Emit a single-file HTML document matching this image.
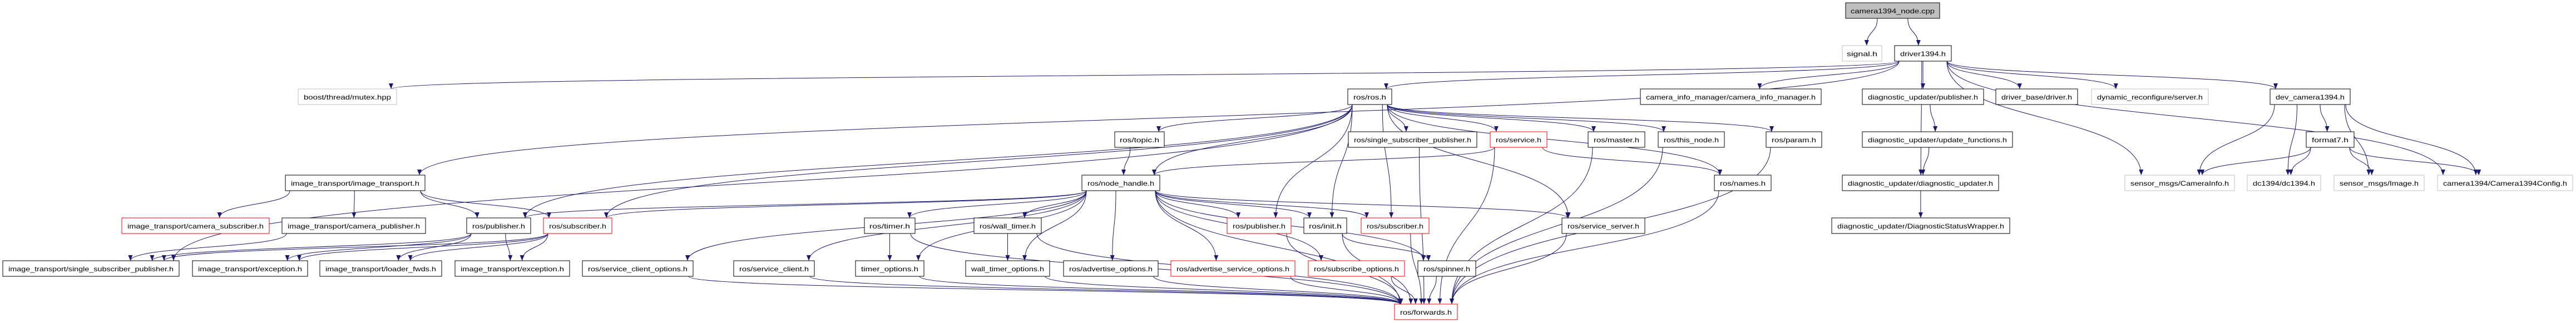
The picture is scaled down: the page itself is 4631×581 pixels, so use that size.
<!DOCTYPE html>
<html><head><meta charset="utf-8">
<style>
html,body{margin:0;padding:0;background:#fff;}
svg{display:block;}
text{font-family:"Liberation Sans",sans-serif;font-size:12px;fill:#000;}
</style></head>
<body>
<svg id="g" width="4631" height="581" viewBox="0 0 4631 581" xmlns="http://www.w3.org/2000/svg">
<defs>
<marker id="a" viewBox="0 0 10 8" refX="10" refY="4" markerWidth="10" markerHeight="8" markerUnits="userSpaceOnUse" orient="auto">
<path d="M0,0 L10,4 L0,8 z" fill="#191970"/>
</marker>
</defs>
<g id="edges" fill="none" stroke="#191970" stroke-width="1"></g>
<g id="labels">
<rect x="3318" y="5" width="169" height="28" fill="#bfbfbf" stroke="#000"/><text x="3327" y="24" textLength="151" lengthAdjust="spacingAndGlyphs">camera1394_node.cpp</text>
<rect x="3312" y="82" width="71" height="28" fill="#fff" stroke="#bfbfbf"/><text x="3320" y="101" textLength="55" lengthAdjust="spacingAndGlyphs">signal.h</text>
<rect x="3406" y="82" width="102" height="28" fill="#fff" stroke="#000"/><text x="3416" y="101" textLength="82" lengthAdjust="spacingAndGlyphs">driver1394.h</text>

<rect x="536" y="160" width="177" height="28" fill="#fff" stroke="#bfbfbf"/><text x="546" y="179" textLength="157" lengthAdjust="spacingAndGlyphs">boost/thread/mutex.hpp</text>
<rect x="2423" y="160" width="79" height="28" fill="#fff" stroke="#000"/><text x="2433" y="179" textLength="59" lengthAdjust="spacingAndGlyphs">ros/ros.h</text>
<rect x="2949" y="160" width="325" height="28" fill="#fff" stroke="#000"/><text x="2959" y="179" textLength="305" lengthAdjust="spacingAndGlyphs">camera_info_manager/camera_info_manager.h</text>
<rect x="3348" y="160" width="218" height="28" fill="#fff" stroke="#000"/><text x="3358" y="179" textLength="198" lengthAdjust="spacingAndGlyphs">diagnostic_updater/publisher.h</text>
<rect x="3588" y="160" width="147" height="28" fill="#fff" stroke="#000"/><text x="3598" y="179" textLength="127" lengthAdjust="spacingAndGlyphs">driver_base/driver.h</text>
<rect x="3760" y="160" width="210" height="28" fill="#fff" stroke="#bfbfbf"/><text x="3770" y="179" textLength="190" lengthAdjust="spacingAndGlyphs">dynamic_reconfigure/server.h</text>
<rect x="4081" y="160" width="144" height="28" fill="#fff" stroke="#000"/><text x="4091" y="179" textLength="124" lengthAdjust="spacingAndGlyphs">dev_camera1394.h</text>

<rect x="2004" y="237" width="89" height="28" fill="#fff" stroke="#000"/><text x="2013" y="256" textLength="71" lengthAdjust="spacingAndGlyphs">ros/topic.h</text>
<rect x="2424" y="237" width="231" height="28" fill="#fff" stroke="#000"/><text x="2434" y="256" textLength="211" lengthAdjust="spacingAndGlyphs">ros/single_subscriber_publisher.h</text>
<rect x="2679" y="237" width="102" height="28" fill="#fff" stroke="#ff0000"/><text x="2689" y="256" textLength="82" lengthAdjust="spacingAndGlyphs">ros/service.h</text>
<rect x="2855" y="237" width="102" height="28" fill="#fff" stroke="#000"/><text x="2865" y="256" textLength="82" lengthAdjust="spacingAndGlyphs">ros/master.h</text>
<rect x="2981" y="237" width="119" height="28" fill="#fff" stroke="#000"/><text x="2991" y="256" textLength="99" lengthAdjust="spacingAndGlyphs">ros/this_node.h</text>
<rect x="3175" y="237" width="100" height="28" fill="#fff" stroke="#000"/><text x="3185" y="256" textLength="80" lengthAdjust="spacingAndGlyphs">ros/param.h</text>
<rect x="3348" y="237" width="270" height="28" fill="#fff" stroke="#000"/><text x="3358" y="256" textLength="250" lengthAdjust="spacingAndGlyphs">diagnostic_updater/update_functions.h</text>
<rect x="4146" y="237" width="86" height="28" fill="#fff" stroke="#000"/><text x="4156" y="256" textLength="66" lengthAdjust="spacingAndGlyphs">format7.h</text>

<rect x="513" y="315" width="251" height="28" fill="#fff" stroke="#000"/><text x="523" y="334" textLength="231" lengthAdjust="spacingAndGlyphs">image_transport/image_transport.h</text>
<rect x="1945" y="315" width="140" height="28" fill="#fff" stroke="#000"/><text x="1955" y="334" textLength="120" lengthAdjust="spacingAndGlyphs">ros/node_handle.h</text>
<rect x="3082" y="315" width="102" height="28" fill="#fff" stroke="#000"/><text x="3092" y="334" textLength="82" lengthAdjust="spacingAndGlyphs">ros/names.h</text>
<rect x="3312" y="315" width="281" height="28" fill="#fff" stroke="#000"/><text x="3322" y="334" textLength="261" lengthAdjust="spacingAndGlyphs">diagnostic_updater/diagnostic_updater.h</text>
<rect x="3820" y="315" width="197" height="28" fill="#fff" stroke="#bfbfbf"/><text x="3830" y="334" textLength="177" lengthAdjust="spacingAndGlyphs">sensor_msgs/CameraInfo.h</text>
<rect x="4040" y="315" width="132" height="28" fill="#fff" stroke="#bfbfbf"/><text x="4050" y="334" textLength="112" lengthAdjust="spacingAndGlyphs">dc1394/dc1394.h</text>
<rect x="4196" y="315" width="162" height="28" fill="#fff" stroke="#bfbfbf"/><text x="4206" y="334" textLength="142" lengthAdjust="spacingAndGlyphs">sensor_msgs/Image.h</text>
<rect x="4382" y="315" width="243" height="28" fill="#fff" stroke="#bfbfbf"/><text x="4392" y="334" textLength="223" lengthAdjust="spacingAndGlyphs">camera1394/Camera1394Config.h</text>

<rect x="219" y="392" width="265" height="28" fill="#fff" stroke="#ff0000"/><text x="229" y="411" textLength="245" lengthAdjust="spacingAndGlyphs">image_transport/camera_subscriber.h</text>
<rect x="507" y="392" width="258" height="28" fill="#fff" stroke="#000"/><text x="517" y="411" textLength="238" lengthAdjust="spacingAndGlyphs">image_transport/camera_publisher.h</text>
<rect x="839" y="392" width="115" height="28" fill="#fff" stroke="#000"/><text x="849" y="411" textLength="95" lengthAdjust="spacingAndGlyphs">ros/publisher.h</text>
<rect x="977" y="392" width="123" height="28" fill="#fff" stroke="#ff0000"/><text x="987" y="411" textLength="103" lengthAdjust="spacingAndGlyphs">ros/subscriber.h</text>
<rect x="1554" y="392" width="91" height="28" fill="#fff" stroke="#000"/><text x="1563" y="411" textLength="73" lengthAdjust="spacingAndGlyphs">ros/timer.h</text>
<rect x="1751" y="392" width="121" height="28" fill="#fff" stroke="#000"/><text x="1761" y="411" textLength="101" lengthAdjust="spacingAndGlyphs">ros/wall_timer.h</text>
<rect x="2206" y="392" width="115" height="28" fill="#fff" stroke="#ff0000"/><text x="2216" y="411" textLength="95" lengthAdjust="spacingAndGlyphs">ros/publisher.h</text>
<rect x="2344" y="392" width="77" height="28" fill="#fff" stroke="#000"/><text x="2353" y="411" textLength="59" lengthAdjust="spacingAndGlyphs">ros/init.h</text>
<rect x="2447" y="392" width="122" height="28" fill="#fff" stroke="#ff0000"/><text x="2457" y="411" textLength="102" lengthAdjust="spacingAndGlyphs">ros/subscriber.h</text>
<rect x="2808" y="392" width="149" height="28" fill="#fff" stroke="#000"/><text x="2818" y="411" textLength="129" lengthAdjust="spacingAndGlyphs">ros/service_server.h</text>
<rect x="3293" y="392" width="320" height="28" fill="#fff" stroke="#000"/><text x="3303" y="411" textLength="300" lengthAdjust="spacingAndGlyphs">diagnostic_updater/DiagnosticStatusWrapper.h</text>

<rect x="5" y="469" width="317" height="28" fill="#fff" stroke="#000"/><text x="15" y="488" textLength="297" lengthAdjust="spacingAndGlyphs">image_transport/single_subscriber_publisher.h</text>
<rect x="346" y="469" width="207" height="28" fill="#fff" stroke="#000"/><text x="356" y="488" textLength="187" lengthAdjust="spacingAndGlyphs">image_transport/exception.h</text>
<rect x="575" y="469" width="219" height="28" fill="#fff" stroke="#000"/><text x="585" y="488" textLength="199" lengthAdjust="spacingAndGlyphs">image_transport/loader_fwds.h</text>
<rect x="818" y="469" width="206" height="28" fill="#fff" stroke="#000"/><text x="828" y="488" textLength="186" lengthAdjust="spacingAndGlyphs">image_transport/exception.h</text>
<rect x="1047" y="469" width="199" height="28" fill="#fff" stroke="#000"/><text x="1057" y="488" textLength="179" lengthAdjust="spacingAndGlyphs">ros/service_client_options.h</text>
<rect x="1319" y="469" width="145" height="28" fill="#fff" stroke="#000"/><text x="1329" y="488" textLength="125" lengthAdjust="spacingAndGlyphs">ros/service_client.h</text>
<rect x="1538" y="469" width="123" height="28" fill="#fff" stroke="#000"/><text x="1548" y="488" textLength="103" lengthAdjust="spacingAndGlyphs">timer_options.h</text>
<rect x="1736" y="469" width="151" height="28" fill="#fff" stroke="#000"/><text x="1746" y="488" textLength="131" lengthAdjust="spacingAndGlyphs">wall_timer_options.h</text>
<rect x="1912" y="469" width="170" height="28" fill="#fff" stroke="#000"/><text x="1922" y="488" textLength="150" lengthAdjust="spacingAndGlyphs">ros/advertise_options.h</text>
<rect x="2105" y="469" width="223" height="28" fill="#fff" stroke="#ff0000"/><text x="2115" y="488" textLength="203" lengthAdjust="spacingAndGlyphs">ros/advertise_service_options.h</text>
<rect x="2352" y="469" width="173" height="28" fill="#fff" stroke="#ff0000"/><text x="2362" y="488" textLength="153" lengthAdjust="spacingAndGlyphs">ros/subscribe_options.h</text>
<rect x="2549" y="469" width="104" height="28" fill="#fff" stroke="#000"/><text x="2559" y="488" textLength="84" lengthAdjust="spacingAndGlyphs">ros/spinner.h</text>

<rect x="2507" y="547" width="113" height="28" fill="#fff" stroke="#ff0000"/><text x="2517" y="566" textLength="93" lengthAdjust="spacingAndGlyphs">ros/forwards.h</text>
</g>
</svg>
<script>
var N={
root:[3318,5,169],sig:[3312,82,71],drv:[3406,82,102],
mutex:[536,160,177],ros:[2423,160,79],cim:[2949,160,325],dpub:[3348,160,218],dbase:[3588,160,147],dyn:[3760,160,210],dev:[4081,160,144],
topic:[2004,237,89],rssp:[2424,237,231],svc:[2679,237,102],master:[2855,237,102],thisn:[2981,237,119],param:[3175,237,100],uf:[3348,237,270],f7:[4146,237,86],
it:[513,315,251],nh:[1945,315,140],names:[3082,315,102],du:[3312,315,281],ci:[3820,315,197],dc:[4040,315,132],img:[4196,315,162],cfg:[4382,315,243],
csub:[219,392,265],cpub:[507,392,258],pub1:[839,392,115],sub1:[977,392,123],timer:[1554,392,91],wt:[1751,392,121],pub2:[2206,392,115],init:[2344,392,77],sub2:[2447,392,122],ss:[2808,392,149],dsw:[3293,392,320],
itssp:[5,469,317],exc1:[346,469,207],lf:[575,469,219],exc2:[818,469,206],sco:[1047,469,199],sc:[1319,469,145],to:[1538,469,123],wto:[1736,469,151],ao:[1912,469,170],aso:[2105,469,223],so:[2352,469,173],spin:[2549,469,104],
fw:[2507,547,113]};
var E=[["root","sig"],["root","drv"],
["drv","mutex"],["drv","it"],["drv","ros"],["drv","cim"],["drv","dpub"],["drv","du"],["drv","dbase"],["drv","dyn"],["drv","dev"],["drv","ci"],["drv","cfg"],
["ros","topic"],["ros","nh"],["ros","pub1"],["ros","sub1"],["ros","pub2"],["ros","init"],["ros","sub2"],["ros","rssp"],["ros","svc"],["ros","master"],["ros","thisn"],["ros","param"],["ros","names"],["ros","ss"],["ros","itssp"],
["it","csub"],["it","cpub"],["it","pub1"],["it","sub1"],["cpub","itssp"],
["pub1","itssp"],["pub1","exc1"],["pub1","lf"],["pub1","exc2"],["sub1","itssp"],["sub1","exc1"],["sub1","lf"],["sub1","exc2"],
["topic","nh"],["svc","nh"],["svc","fw"],["svc","names"],
["nh","pub1"],["nh","sub1"],["nh","sco"],["nh","timer"],["nh","wt"],["nh","to"],["nh","wto"],["nh","ao"],["nh","aso"],["nh","so"],["nh","pub2"],["nh","init"],["nh","sub2"],["nh","ss"],["nh","spin"],["nh","sc"],["nh","fw"],
["timer","to"],["timer","fw"],["wt","wto"],["wt","fw"],
["sco","fw"],["sc","fw"],["to","fw"],["wto","fw"],["ao","fw"],["aso","fw"],["so","fw"],["spin","fw"],
["pub2","fw"],["init","fw"],["init","spin"],["sub2","fw"],["ss","fw"],["rssp","fw"],["master","fw"],["thisn","fw"],["names","fw"],["param","fw"],
["dpub","uf"],["uf","du"],["du","dsw"],
["dev","ci"],["dev","dc"],["dev","f7"],["dev","img"],["dev","cfg"],["f7","ci"],["f7","dc"],["f7","img"],["f7","cfg"]];
var H=28;
function cl(v,a,b){return Math.max(a,Math.min(b,v));}
var g=document.getElementById("edges"),s="";
E.forEach(function(e){var a=N[e[0]],b=N[e[1]];
var ax=a[0]+a[2]/2,bx=b[0]+b[2]/2,dx=bx-ax;
var sx=cl(ax+dx*0.5,a[0]+8,a[0]+a[2]-8),sy=a[1]+H;
var ex=cl(bx-dx*0.15,b[0]+10,b[0]+b[2]-10),ey=b[1];
var k=(ey-sy)*0.55;
s+='<path d="M'+sx.toFixed(1)+','+sy+' C'+sx.toFixed(1)+','+(sy+k).toFixed(1)+' '+ex.toFixed(1)+','+(ey-k).toFixed(1)+' '+ex.toFixed(1)+','+ey+'" marker-end="url(#a)"/>';});
g.innerHTML=s;
</script>
</body></html>
